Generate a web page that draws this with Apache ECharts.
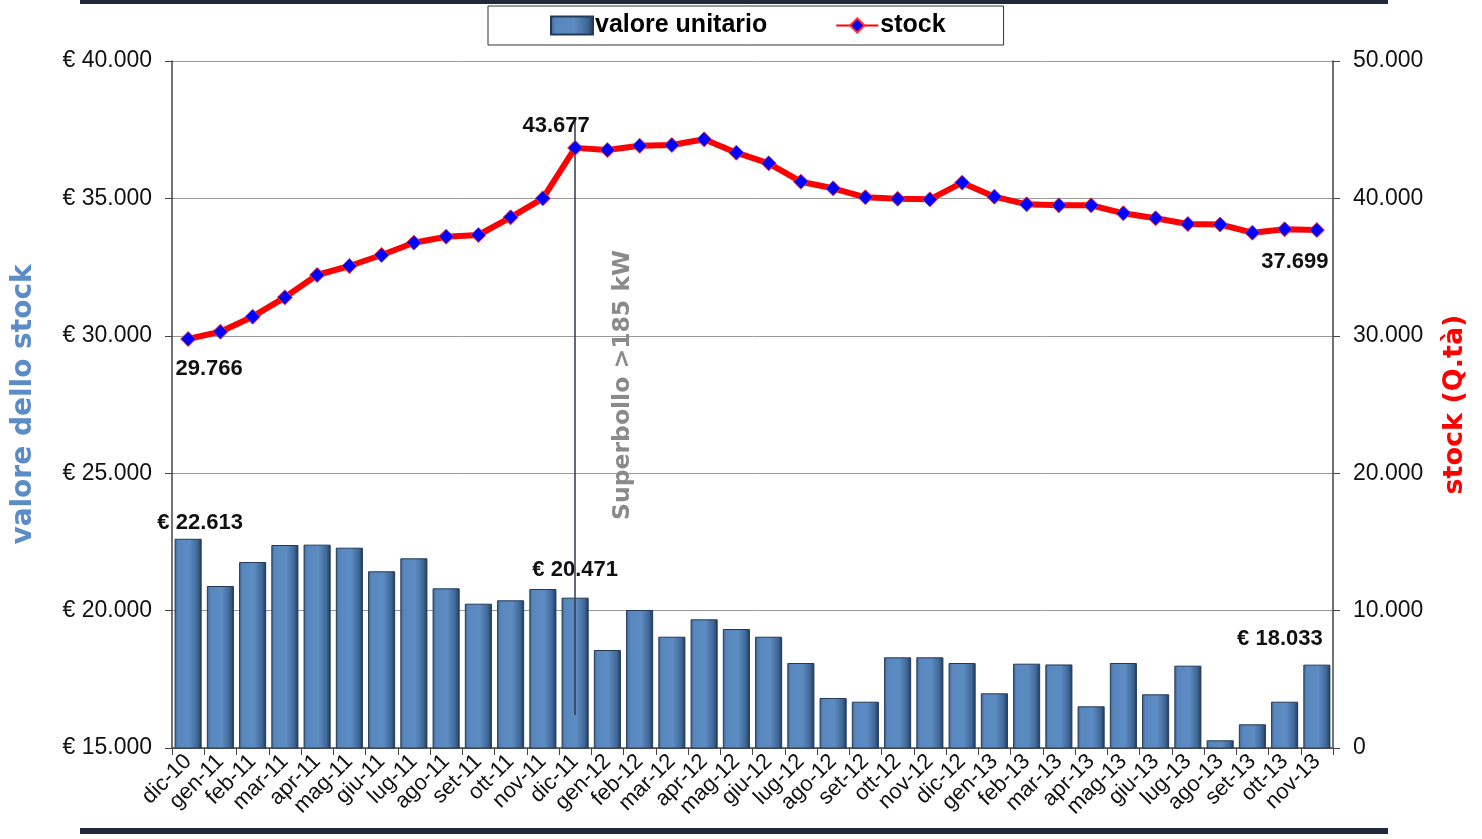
<!DOCTYPE html>
<html>
<head>
<meta charset="utf-8">
<script src="https://cdn.jsdelivr.net/npm/echarts@6/dist/echarts.min.js"></script>
<style>
  html, body { margin: 0; padding: 0; background: #ffffff; }
  #chart { width: 1482px; height: 839px; }
</style>
</head>
<body>
<div id="chart"></div>
<script>
// Months, Dec 2010 – Nov 2013
const months = ['dic-10','gen-11','feb-11','mar-11','apr-11','mag-11','giu-11','lug-11','ago-11','set-11','ott-11','nov-11',
  'dic-11','gen-12','feb-12','mar-12','apr-12','mag-12','giu-12','lug-12','ago-12','set-12','ott-12','nov-12',
  'dic-12','gen-13','feb-13','mar-13','apr-13','mag-13','giu-13','lug-13','ago-13','set-13','ott-13','nov-13'];

// Average unit value of the stock (€)
const unitValue = [22613, 20895, 21769, 22387, 22400, 22289, 21430, 21903, 20811, 20251, 20375, 20786,
  20471, 18566, 20022, 19050, 19683, 19330, 19050, 18093, 16820, 16685, 18300, 18300,
  18093, 16990, 18068, 18040, 16517, 18093, 16954, 17996, 15280, 15862, 16685, 18033];

// Number of vehicles in stock
const stockQty = [29766, 30300, 31391, 32800, 34425, 35080, 35880, 36777, 37213, 37336, 38624, 40007,
  43677, 43522, 43835, 43886, 44300, 43326, 42554, 41215, 40735, 40080, 39978, 39930,
  41142, 40124, 39570, 39500, 39500, 38915, 38551, 38136, 38100, 37503, 37750, 37699];

// Axis tick ranges
const leftTicks = { min: 15000, max: 40000, step: 5000 };
const rightTicks = { min: 0, max: 50000, step: 10000 };

// Annotation: tax surcharge introduced in Dec 2011
const superbolloMonth = 'dic-11';
const superbolloSpan = [16200, 37900];
const superbolloText = 'Superbollo >185 kW';

function fmtThousands(v) {
  return String(Math.round(v)).replace(/\B(?=(\d{3})+(?!\d))/g, '.');
}

const barLabelCfg = {
  0:  { offset: [12, 0] },
  12: { offset: [0, -12] },
  35: { offset: [-37, -10] }
};
const lineLabelCfg = {
  0:  { position: 'bottom', offset: [21, 6] },
  12: { position: 'top', offset: [-19, 2] },
  35: { position: 'bottom', offset: [-22, 8] }
};

const labelFont = { fontFamily: 'Liberation Sans', fontWeight: 'bold', fontSize: 22, color: '#111' };

const barData = unitValue.map((v, i) => {
  const cfg = barLabelCfg[i];
  if (!cfg) return v;
  return {
    value: v,
    label: Object.assign({ show: true, position: 'top', formatter: p => '€ ' + fmtThousands(p.value) }, labelFont, cfg)
  };
});

const lineData = stockQty.map((v, i) => {
  const cfg = lineLabelCfg[i];
  if (!cfg) return v;
  return {
    value: v,
    label: Object.assign({ show: true, formatter: p => fmtThousands(p.value) }, labelFont, cfg)
  };
});

const barGradient = new echarts.graphic.LinearGradient(0, 0, 1, 0, [
  { offset: 0, color: '#3a5f8a' },
  { offset: 0.12, color: '#5787be' },
  { offset: 0.55, color: '#5d8cc3' },
  { offset: 0.85, color: '#3f6796' },
  { offset: 1, color: '#1f3653' }
]);

const chart = echarts.init(document.getElementById('chart'), null, { renderer: 'canvas' });

const tickLabelStyle = { fontFamily: 'Liberation Sans', fontSize: 23, color: '#111' };

chart.setOption({
  backgroundColor: '#ffffff',
  animation: false,
  textStyle: { fontFamily: 'Liberation Sans' },
  grid: { left: 172, right: 149, top: 61, bottom: 91, containLabel: false },
  legend: {
    top: 6,
    left: 488,
    padding: [7, 58, 7, 62],
    itemGap: 68,
    itemWidth: 42,
    itemHeight: 18,
    borderColor: '#333',
    borderWidth: 1,
    backgroundColor: '#fff',
    textStyle: { fontFamily: 'Liberation Sans', fontWeight: 'bold', fontSize: 25, color: '#000', padding: [0, 0, 0, -3] },
    data: [{ name: 'valore unitario', icon: 'rect' }, { name: 'stock' }]
  },
  xAxis: {
    type: 'category',
    data: months,
    boundaryGap: true,
    axisLine: { lineStyle: { color: '#444', width: 1.5 } },
    axisTick: { show: true, alignWithLabel: false, length: 7, lineStyle: { color: '#444' } },
    axisLabel: Object.assign({ rotate: 45, interval: 0, margin: 10 }, tickLabelStyle, { fontSize: 22 }),
    splitLine: { show: false }
  },
  yAxis: [
    {
      type: 'value',
      min: leftTicks.min,
      max: leftTicks.max,
      interval: leftTicks.step,
      position: 'left',
      name: 'valore dello stock',
      nameLocation: 'middle',
      nameRotate: 90,
      nameGap: 134,
      nameTextStyle: { fontFamily: 'DejaVu Sans', fontWeight: 'bold', fontSize: 28, color: '#5b8cc8' },
      axisLine: { show: true, lineStyle: { color: '#444', width: 1.5 } },
      axisTick: { show: true, length: 7, lineStyle: { color: '#444' } },
      axisLabel: Object.assign({ margin: 20, formatter: v => '€ ' + fmtThousands(v) }, tickLabelStyle),
      splitLine: { show: true, lineStyle: { color: '#9a9a9a', width: 1 } }
    },
    {
      type: 'value',
      min: rightTicks.min,
      max: rightTicks.max,
      interval: rightTicks.step,
      position: 'right',
      name: 'stock (Q.tà)',
      nameLocation: 'middle',
      nameRotate: 90,
      nameGap: 108,
      nameTextStyle: { fontFamily: 'DejaVu Sans', fontWeight: 'bold', fontSize: 27, color: '#ff0000' },
      axisLine: { show: true, lineStyle: { color: '#444', width: 1.5 } },
      axisTick: { show: true, length: 7, lineStyle: { color: '#444' } },
      axisLabel: Object.assign({ margin: 20, formatter: v => fmtThousands(v) }, tickLabelStyle),
      splitLine: { show: false }
    }
  ],
  series: [
    {
      name: 'valore unitario',
      type: 'bar',
      yAxisIndex: 0,
      data: barData,
      barCategoryGap: '16%',
      itemStyle: { color: barGradient, borderColor: '#233a57', borderWidth: 1 },
      markLine: {
        silent: true,
        symbol: 'none',
        label: { show: false },
        lineStyle: { color: '#2e3b4c', width: 1.5, type: 'solid' },
        data: [[
          { coord: [superbolloMonth, superbolloSpan[1]] },
          { coord: [superbolloMonth, superbolloSpan[0]] }
        ]]
      },
      z: 2
    },
    {
      name: 'stock',
      type: 'line',
      yAxisIndex: 1,
      data: lineData,
      symbol: 'diamond',
      symbolSize: 15,
      lineStyle: { color: '#ff0000', width: 6 },
      itemStyle: { color: '#0000ff', borderColor: '#ff3030', borderWidth: 1 },
      z: 5
    }
  ],
  graphic: [
    { type: 'rect', shape: { x: 80, y: 0, width: 1308, height: 4 }, style: { fill: '#1f2a3a' } },
    { type: 'rect', shape: { x: 80, y: 828, width: 1308, height: 6 }, style: { fill: '#1f2a3a' } },
    {
      type: 'text',
      x: 623,
      y: 385,
      rotation: Math.PI / 2,
      style: {
        text: superbolloText,
        fontFamily: 'DejaVu Sans',
        fontWeight: 'bold',
        fontSize: 23.5,
        fill: '#8a8a8a',
        align: 'center',
        verticalAlign: 'middle'
      },
      z: 10
    }
  ]
});
</script>
</body>
</html>
